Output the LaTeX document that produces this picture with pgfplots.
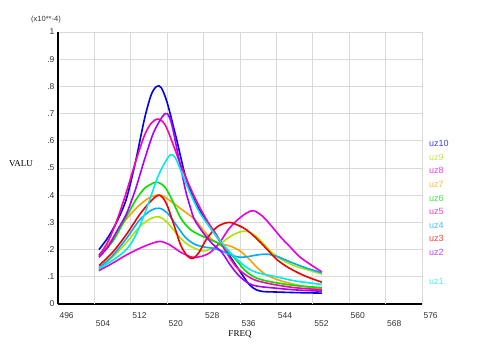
\documentclass[border=0pt]{standalone}
\usepackage{fontspec}
\setmainfont{Liberation Sans}
\newfontfamily\serifx{Liberation Serif}
\usepackage{pgfplots}
\pgfplotsset{compat=1.18}
\definecolor{c10}{RGB}{0,0,235}
\definecolor{c9}{RGB}{170,230,0}
\definecolor{c8}{RGB}{230,0,230}
\definecolor{c7}{RGB}{255,160,0}
\definecolor{c6}{RGB}{0,225,0}
\definecolor{c5}{RGB}{255,0,170}
\definecolor{c4}{RGB}{0,170,255}
\definecolor{c3}{RGB}{240,0,0}
\definecolor{c2}{RGB}{170,0,255}
\definecolor{c1}{RGB}{0,235,235}
\begin{document}
\begin{tikzpicture}[x=1pt,y=1pt]
\useasboundingbox (0,0) rectangle (480,351);
\begin{axis}[
  at={(58pt,47pt)}, anchor=south west, scale only axis,
  width=364pt, height=272pt,
  xmin=496, xmax=576, ymin=0, ymax=1,
  xtick={496,512,528,544,560,576},
  extra x ticks={504,520,536,552,568},
  extra x tick style={grid=major, xticklabel style={yshift=-8.5pt}},
  ytick={0,0.1,0.2,0.3,0.4,0.5,0.6,0.7,0.8,0.9,1},
  yticklabels={0,.1,.2,.3,.4,.5,.6,.7,.8,.9,1},
  grid=major, major grid style={black!15, line width=0.9pt},
  axis lines*=left, axis line style={line width=1.6pt, black},
  major tick length=0pt,
  tick label style={font=\fontsize{8.5}{9}\selectfont, text=black!80},
  xticklabel style={anchor=north west, xshift=-2pt, yshift=-5pt},
  /pgf/number format/assume math mode=true,
  every axis plot/.append style={line width=1.6pt, smooth, no marks},
]
% uz10
\addplot[c10] coordinates {(505,.20)(507,.245)(509,.305)(511,.385)(513,.52)(515,.68)(516.5,.77)(517.7,.80)(518.7,.795)(520,.74)(522,.61)(524,.47)(526,.38)(528,.32)(530,.27)(532,.22)(534,.17)(536,.12)(538,.072)(539.5,.053)(541,.046)(544,.044)(548,.042)(554,.04)};
% uz9
\addplot[c9] coordinates {(505,.123)(508,.172)(511,.225)(514,.285)(516.5,.315)(518.3,.32)(520,.30)(522,.26)(524,.225)(526,.205)(528,.195)(530,.205)(532,.225)(534,.25)(536,.265)(537.5,.267)(539.5,.25)(541,.225)(543,.19)(545,.165)(548,.14)(551,.125)(554,.11)};
% uz8
\addplot[c8] coordinates {(505,.123)(508,.15)(511,.18)(514,.205)(516.5,.222)(518.5,.23)(520.5,.218)(523,.19)(525.5,.172)(527.5,.175)(529.5,.19)(531.5,.225)(533.5,.275)(535.5,.31)(537.5,.335)(539,.343)(541,.322)(543,.285)(545,.245)(547,.21)(549,.175)(551.5,.145)(554,.118)};
% uz7
\addplot[c7] coordinates {(505,.178)(508,.24)(511,.312)(514,.365)(516.5,.395)(518.5,.40)(520,.387)(523,.35)(526,.312)(528,.27)(530,.235)(532,.221)(534,.212)(536,.195)(538,.165)(540,.13)(542,.105)(545,.085)(548,.072)(551,.062)(554,.055)};
% uz6
\addplot[c6] coordinates {(505,.18)(508,.23)(511,.32)(513,.38)(515,.425)(517,.445)(518,.447)(519.5,.43)(521,.385)(523,.315)(525,.275)(527,.255)(529,.24)(531,.225)(533,.20)(535,.165)(537,.125)(539,.10)(541,.088)(544,.078)(548,.068)(554,.06)};
% uz5
\addplot[c5] coordinates {(505,.178)(507,.23)(509,.31)(511,.41)(513,.52)(515,.62)(516.5,.665)(518,.68)(519.5,.66)(521,.60)(523,.51)(525,.43)(527,.36)(529,.30)(531,.25)(533,.19)(535,.14)(537,.11)(539,.09)(541,.08)(544,.07)(548,.06)(554,.052)};
% uz4
\addplot[c4] coordinates {(505,.132)(508,.178)(511,.24)(514,.31)(516.5,.345)(518.3,.352)(520,.335)(522,.29)(524,.245)(526,.22)(528,.21)(530,.205)(532,.195)(534,.18)(536,.172)(538,.175)(540,.181)(542,.183)(544,.176)(546,.162)(548,.148)(551,.13)(554,.115)};
% uz3
\addplot[c3] coordinates {(505,.141)(508,.19)(511,.255)(514,.33)(516.5,.38)(518.3,.40)(519.8,.37)(521.5,.29)(523,.215)(524.5,.175)(525.7,.168)(527,.19)(528.7,.24)(531,.284)(533.5,.30)(535.5,.29)(537.5,.272)(540,.235)(542,.20)(544,.165)(546.5,.135)(550,.105)(554,.08)};
% uz2
\addplot[c2] coordinates {(505,.172)(507,.21)(509,.27)(511,.33)(513,.42)(515,.53)(517,.63)(519,.69)(520,.70)(521,.66)(522.5,.54)(524,.42)(525,.36)(526,.31)(528,.26)(530,.22)(532,.19)(534,.14)(536,.10)(538,.075)(540,.065)(544,.058)(548,.052)(554,.047)};
% uz1
\addplot[c1] coordinates {(505,.13)(508,.16)(511,.20)(513,.25)(515,.33)(516.5,.40)(518,.47)(519.5,.52)(520.7,.548)(521.7,.54)(523,.49)(525,.41)(527,.34)(529,.29)(531,.245)(533,.205)(535,.17)(537,.14)(539,.12)(541,.11)(544,.10)(548,.085)(554,.072)};
\end{axis}
\node[font=\fontsize{7.5}{8}\selectfont, text=black!80] at (46,331) {(x10**-4)};
\node[font=\serifx\fontsize{9}{10}\selectfont] at (21,187) {VALU};
\node[font=\serifx\fontsize{9}{10}\selectfont] at (240,17) {FREQ};
\begin{scope}[every node/.style={anchor=west, font=\fontsize{9}{10}\selectfont, inner sep=0pt}]
\node[text=c10!75!white] at (429,207.7) {uz10};
\node[text=c9!75!white] at (429,193.7) {uz9};
\node[text=c8!75!white] at (429,180.3) {uz8};
\node[text=c7!75!white] at (429,166.3) {uz7};
\node[text=c6!75!white] at (429,152.3) {uz6};
\node[text=c5!75!white] at (429,139.3) {uz5};
\node[text=c4!75!white] at (429,126) {uz4};
\node[text=c3!75!white] at (429,112.3) {uz3};
\node[text=c2!75!white] at (429,99) {uz2};
\node[text=c1!75!white] at (429,69.3) {uz1};
\end{scope}
\end{tikzpicture}
\end{document}
